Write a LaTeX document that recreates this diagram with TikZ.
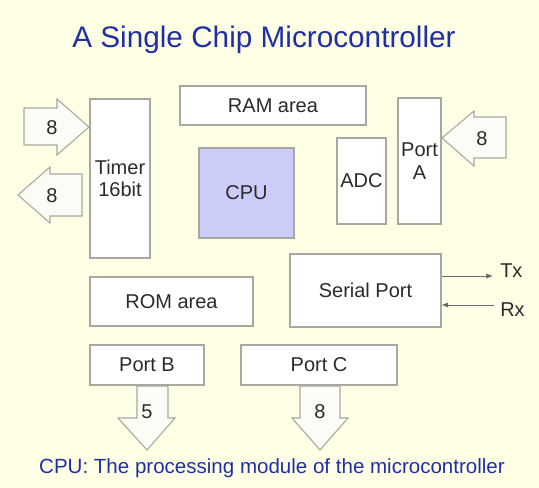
\documentclass[tikz,border=0pt]{standalone}
\usepackage{fontspec}
\setmainfont{Liberation Sans}
\usetikzlibrary{arrows.meta}
\definecolor{bg}{HTML}{FFFFE6}
\definecolor{edge}{HTML}{A8A8A0}
\definecolor{cpufill}{HTML}{CCCCF8}
\definecolor{titleblue}{HTML}{1E2FA8}
\definecolor{txt}{HTML}{2A2A2A}
\definecolor{arrfill}{HTML}{FCFCF6}
\tikzset{
  blk/.style={draw=edge, fill=white, line width=0.8pt, text=txt,
    font=\fontsize{15}{17}\selectfont, align=center, inner sep=0pt},
  blockarrow/.style={draw=edge, fill=arrfill, line width=0.8pt, line join=miter},
  lbl/.style={text=txt, font=\fontsize{15}{17}\selectfont, align=center, inner sep=0pt},
  sig/.style={draw=txt!70, line width=0.6pt, -{Latex[length=5pt,width=4pt]}},
}
\begin{document}
\begin{tikzpicture}[x=0.75pt, y=-0.75pt]
\fill[bg] (0,0) rectangle (539,488);
\useasboundingbox (0,0) rectangle (539,488);

\node[text=titleblue, font=\fontsize{22.3}{26}\selectfont, inner sep=0pt] (title) at (264,40) {A Single Chip Microcontroller};

% blocks (sizes in px * 0.75pt)
\node[blk, minimum width=45pt, minimum height=119.25pt] (timer) at (120,178.5) {Timer\\16bit};
\node[blk, minimum width=139.5pt, minimum height=29.25pt] (ram) at (273,105.5) {RAM area};
\node[blk, fill=cpufill, minimum width=71.25pt, minimum height=67.5pt] (cpu) at (246.5,193) {CPU};
\node[blk, minimum width=36.75pt, minimum height=64.5pt] (adc) at (361.5,181) {ADC};
\node[blk, minimum width=32.25pt, minimum height=94.5pt] (porta) at (419.5,161) {Port\\A};
\node[blk, minimum width=113.25pt, minimum height=54.75pt] (serial) at (365.5,290.5) {Serial Port};
\node[blk, minimum width=122.25pt, minimum height=36.75pt] (rom) at (171.5,301.5) {ROM area};
\node[blk, minimum width=85.5pt, minimum height=30pt] (portb) at (147,365) {Port B};
\node[blk, minimum width=117pt, minimum height=30pt] (portc) at (319,365) {Port C};

% block arrows
\draw[blockarrow] (24,108) -- (57,108) -- (57,99) -- (89,127) -- (57,155) -- (57,145) -- (24,145) -- cycle;
\node[lbl] (tin) at (52,128) {8};
\draw[blockarrow] (82,174) -- (50,174) -- (50,167) -- (18,195) -- (50,223) -- (50,216) -- (82,216) -- cycle;
\node[lbl] (tout) at (52,196) {8};
\draw[blockarrow] (506,117) -- (474,117) -- (474,111) -- (442,138) -- (474,166) -- (474,158) -- (506,158) -- cycle;
\node[lbl] (ain) at (482,139) {8};
\draw[blockarrow] (137,386) -- (168,386) -- (168,418) -- (175,418) -- (147,450) -- (118,418) -- (137,418) -- cycle;
\node[lbl] (bout) at (147,412) {5};
\draw[blockarrow] (300,386) -- (340,386) -- (340,418) -- (348,418) -- (320,450) -- (292,418) -- (300,418) -- cycle;
\node[lbl] (cout) at (320,412) {8};

% serial lines
\coordinate (txend) at (493,276);
\coordinate (rxstart) at (494,305);
\draw[sig] (serial.east |- txend) -- (txend);
\draw[sig] (rxstart) -- (serial.east |- rxstart);
\node[lbl, anchor=west] (tx) at (500,271) {Tx};
\node[lbl, anchor=west] (rx) at (500,310) {Rx};

\node[text=titleblue, font=\fontsize{15.4}{18}\selectfont, inner sep=0pt] (caption) at (272,468) {CPU: The processing module of the microcontroller};
\end{tikzpicture}
\end{document}
